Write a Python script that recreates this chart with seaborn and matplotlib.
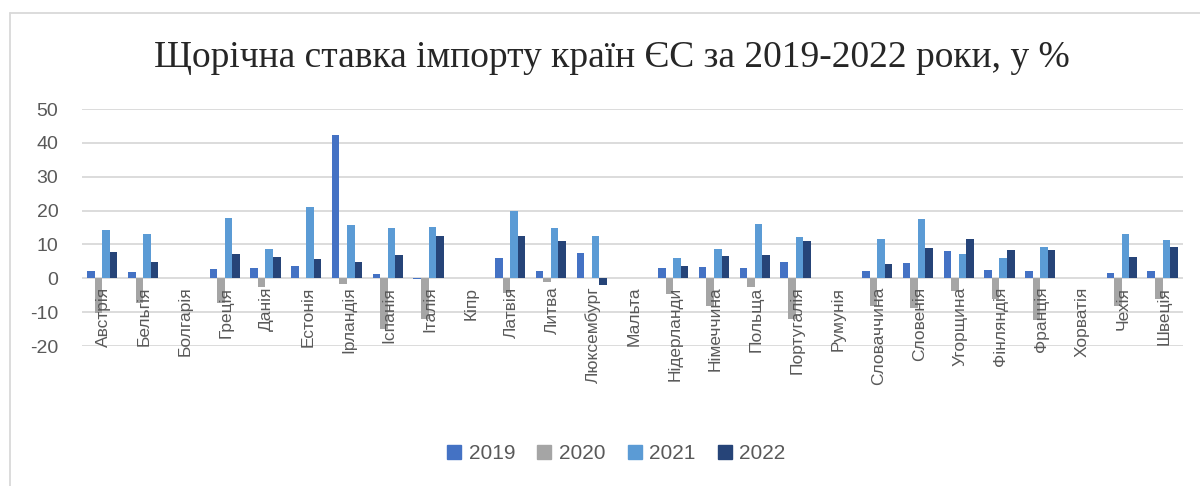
import pandas as pd
import numpy as np
import matplotlib
matplotlib.use("Agg")
import matplotlib.pyplot as plt
import seaborn as sns
from matplotlib.lines import Line2D

# Data (annual import growth, %)
countries = ['Австрія', 'Бельгія', 'Болгарія', 'Греція', 'Данія', 'Естонія', 'Ірландія',
             'Іспанія', 'Італія', 'Кіпр', 'Латвія', 'Литва', 'Люксембург', 'Мальта',
             'Нідерланди', 'Німеччина', 'Польща', 'Португалія', 'Румунія', 'Словаччина',
             'Словенія', 'Угорщина', 'Фінляндія', 'Франція', 'Хорватія', 'Чехія', 'Швеція']
nan = np.nan
v2019 = [2.2, 1.9, nan, 2.7, 2.9, 3.7, 42.4, 1.3, -0.3, nan, 5.9, 2.2, 7.4, nan,
         3.1, 3.2, 3.0, 4.8, nan, 2.2, 4.6, 8.1, 2.4, 2.2, nan, 1.5, 2.1]
v2020 = [-10.1, -7.4, nan, -7.3, -2.7, 0.2, -1.8, -15.0, -12.1, nan, -4.2, -1.2, 0.0, nan,
         -4.7, -8.3, -2.5, -11.9, nan, -8.3, -8.8, -3.8, -6.2, -12.3, nan, -8.3, -6.0]
v2021 = [14.2, 13.0, nan, 17.8, 8.7, 21.0, 15.8, 14.9, 15.1, nan, 19.8, 15.0, 12.4, nan,
         6.1, 8.8, 16.1, 12.2, nan, 11.6, 17.6, 7.3, 6.1, 9.3, nan, 13.2, 11.4]
v2022 = [7.7, 4.8, nan, 7.2, 6.4, 5.7, 4.9, 7.0, 12.5, nan, 12.4, 11.0, -2.0, nan,
         3.7, 6.6, 6.8, 11.0, nan, 4.1, 8.9, 11.6, 8.4, 8.4, nan, 6.2, 9.1]
years = ['2019', '2020', '2021', '2022']
colors = ['#4472C4', '#A5A5A5', '#5B9BD5', '#264478']

df = pd.DataFrame({'country': countries, '2019': v2019, '2020': v2020,
                   '2021': v2021, '2022': v2022})
long = df.melt(id_vars='country', var_name='year', value_name='rate')

sns.set_style("white")
plt.rcParams['font.family'] = ['Liberation Sans', 'DejaVu Sans']
plt.rcParams['axes.unicode_minus'] = False

fig = plt.figure(figsize=(12, 4.86), dpi=100)
ax = fig.add_axes([0.0683, 0.288, 0.9175, 0.4877])

sns.barplot(data=long, x='country', y='rate', hue='year', order=countries,
            hue_order=years, palette=dict(zip(years, colors)), saturation=1,
            width=0.74, gap=0, linewidth=0, ax=ax, legend=False, zorder=3)

ax.set_ylim(-20, 50)
ax.set_xlim(-0.5, len(countries) - 0.5)
ax.set_yticks(range(-20, 51, 10))
ax.yaxis.grid(True, color='#D9D9D9', linewidth=1.3)
ax.set_axisbelow(True)
for s in ax.spines.values():
    s.set_visible(False)
ax.tick_params(axis='y', length=0, pad=17, labelsize=14, labelcolor='#595959')
ax.tick_params(axis='x', length=0, labelbottom=False)
ax.set_xlabel('')
ax.set_ylabel('')

# category labels sit on the zero line, drawn over the bars
for i, name in enumerate(countries):
    ax.annotate(name, (i, 0), xytext=(1, -6), textcoords='offset points',
                rotation=90, ha='center', va='top', fontsize=12.5,
                color='#595959', zorder=5, annotation_clip=False)

fig.text(0.51, 0.882, 'Щорічна ставка імпорту країн ЄС за 2019-2022 роки, у %',
         ha='center', va='center', fontsize=27, family=['Liberation Serif', 'DejaVu Serif'])

handles = [Line2D([], [], marker='s', linestyle='', markersize=10, color=c) for c in colors]
fig.legend(handles, years, loc='center', bbox_to_anchor=(0.513, 0.066), ncol=4,
           frameon=False, fontsize=15, handlelength=0.8, handletextpad=0.3,
           columnspacing=1.0, labelcolor='#595959')

# chart border
fig.add_artist(Line2D([10 / 1200, 1], [1 - 13 / 486, 1 - 13 / 486],
                      transform=fig.transFigure, color='#D9D9D9', linewidth=1.3))
fig.add_artist(Line2D([10 / 1200, 10 / 1200], [0, 1 - 13 / 486],
                      transform=fig.transFigure, color='#D9D9D9', linewidth=1.3))

fig.savefig('out.png', dpi=100)
